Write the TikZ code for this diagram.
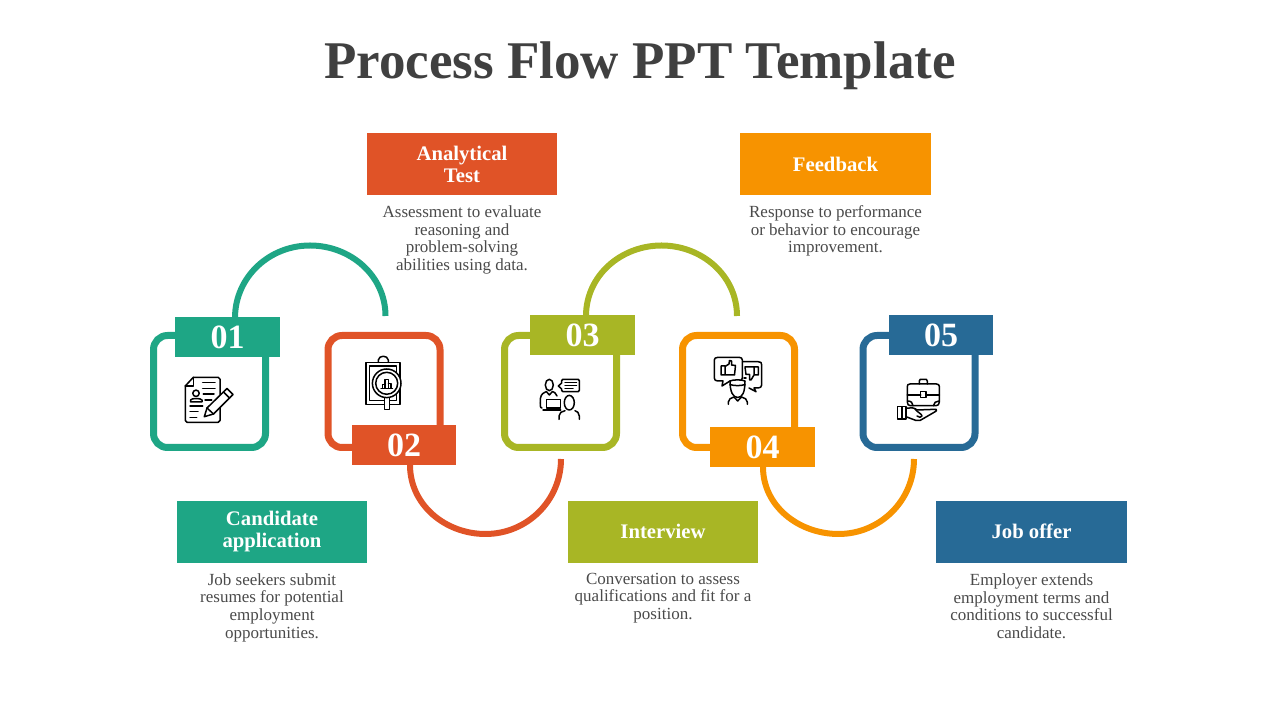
\documentclass[tikz,border=0pt]{standalone}
\usepackage{fontspec}
\setmainfont{Liberation Serif}
\definecolor{stepteal}{HTML}{1EA685}
\definecolor{stepred}{HTML}{E05327}
\definecolor{stepolive}{HTML}{A8B625}
\definecolor{steporange}{HTML}{F79300}
\definecolor{stepblue}{HTML}{276A96}
\definecolor{titlegray}{HTML}{404040}
\definecolor{bodygray}{HTML}{4A4A4A}
\begin{document}
\begin{tikzpicture}[x=1pt, y=1pt]
	\tikzstyle{iconbox} = [
		draw, line width=7pt, fill=white,
		rectangle, rounded corners=14pt,
		minimum height=112pt, minimum width=112pt];
	\tikzstyle{numtag} = [
		rectangle, inner sep=0pt,
		minimum height=40pt, minimum width=104.5pt,
		text=white, font={\fontsize{34}{34}\selectfont\bfseries}];
	\tikzstyle{headbox} = [
		rectangle, inner sep=0pt, align=center,
		minimum height=61.5pt, minimum width=190pt,
		text=white, font={\fontsize{20.7}{22}\selectfont\bfseries}];
	\tikzstyle{desc} = [
		inner sep=0pt, align=center, text=bodygray,
		font={\fontsize{17}{17.7}\selectfont}];
	\tikzstyle{loopline} = [line width=6pt];
	\tikzstyle{icon} = [
		black, line width=1.5pt, line join=round, line cap=round];

	\useasboundingbox (0,0) rectangle (1280,720);

	\node[inner sep=0pt, text=titlegray, font={\fontsize{53}{57}\selectfont\bfseries}] (title) at (640,654) {Process Flow PPT Template};

	\coordinate (arcastart) at (235,402);
	\coordinate (arcatop) at (310,474.5);
	\coordinate (arcaend) at (385.5,404);
	\coordinate (arcbstart) at (410,255);
	\coordinate (arcbbottom) at (485.5,186);
	\coordinate (arcbend) at (561,261);
	\coordinate (arccstart) at (586,404);
	\coordinate (arcctop) at (661.5,474.5);
	\coordinate (arccend) at (737,404);
	\coordinate (arcdstart) at (763,253);
	\coordinate (arcdbottom) at (838.5,186);
	\coordinate (arcdend) at (914,261);

	\draw[loopline, stepteal] (arcastart) to[out=90, in=180] (arcatop) to[out=0, in=90] (arcaend);
	\draw[loopline, stepred] (arcbstart) to[out=-90, in=180] (arcbbottom) to[out=0, in=-90] (arcbend);
	\draw[loopline, stepolive] (arccstart) to[out=90, in=180] (arcctop) to[out=0, in=90] (arccend);
	\draw[loopline, steporange] (arcdstart) to[out=-90, in=180] (arcdbottom) to[out=0, in=-90] (arcdend);

	\node[iconbox, draw=stepteal] (apply) at (209.5,328.5) {};
	\node[iconbox, draw=stepred, node distance=174.5pt, right of=apply] (test) {};
	\node[iconbox, draw=stepolive, node distance=176.5pt, right of=test] (talk) {};
	\node[iconbox, draw=steporange, node distance=178pt, right of=talk] (review) {};
	\node[iconbox, draw=stepblue, node distance=180.5pt, right of=review] (offer) {};

	\node[numtag, fill=stepteal, node distance=18pt, right of=apply, yshift=54.5pt] (applynum) {01};
	\node[numtag, fill=stepred, node distance=20pt, right of=test, yshift=-53.5pt] (testnum) {02};
	\node[numtag, fill=stepolive, node distance=22pt, right of=talk, yshift=56.5pt] (talknum) {03};
	\node[numtag, fill=steporange, node distance=24pt, right of=review, yshift=-55.5pt] (reviewnum) {04};
	\node[numtag, fill=stepblue, node distance=22pt, right of=offer, yshift=56.5pt] (offernum) {05};

	\node[headbox, fill=stepteal] (applyhead) at (272,188.2) {Candidate\\application};
	\node[headbox, fill=stepred] (testhead) at (462,556) {Analytical\\Test};
	\node[headbox, fill=stepolive] (talkhead) at (663,188.2) {Interview};
	\node[headbox, fill=steporange, minimum width=191pt] (reviewhead) at (835.5,556) {Feedback};
	\node[headbox, fill=stepblue, minimum width=191pt] (offerhead) at (1031.5,188.2) {Job offer};

	\node[desc, node distance=75.8pt, below of=applyhead] (applytext) {Job seekers submit\\resumes for potential\\employment\\opportunities.};
	\node[desc, node distance=76pt, below of=testhead] (testtext) {Assessment to evaluate\\reasoning and\\problem-solving\\abilities using data.};
	\node[desc, node distance=66.3pt, below of=talkhead] (talktext) {Conversation to assess\\qualifications and fit for a\\position.};
	\node[desc, node distance=67pt, below of=reviewhead] (reviewtext) {Response to performance\\or behavior to encourage\\improvement.};
	\node[desc, node distance=74.3pt, below of=offerhead] (offertext) {Employer extends\\employment terms and\\conditions to successful\\candidate.};

	\begin{scope}[shift={(0,720)}, yscale=-1, icon]
		\draw (193.3,377.3) -- (185.3,386) -- (185.3,420.5) -- ++(1.8,1.8) -- (218.2,422.3) -- ++(1.8,-1.8) -- (220,379.1) -- ++(-1.8,-1.8) -- cycle;
		\draw (193.3,377.3) -- (193.3,386) -- (185.3,386);
		\draw (196,393.3) circle (3.2pt);
		\draw (190.7,402) -- (190.7,400) .. controls (191,398) and (201,398) .. (202,400) -- (202,402) -- cycle;
		\draw (202.7,382.7) -- (215,382.7) (202.7,388.3) -- (215,388.3) (203.3,394) -- (214,394) (205,400) -- (211.7,400);
		\draw (190,406) -- (202.7,406) (190,411.7) -- (198,411.7) (190,417.3) -- (196.7,417.3);
		\draw[fill=white] (204.3,416.7) -- (207,408) -- (227,388.5) -- (233,394.5) -- (213.5,414) -- cycle;
		\draw (207,408) -- (213.5,414) (223.5,392) -- (229.5,398);

		\draw (366,362.3) rectangle (400,404.3);
		\draw (369.3,366) rectangle (396.7,400.7);
		\draw (378.3,362.3) -- (378.3,360) .. controls (379,355) and (387.5,355) .. (388.3,360) -- (388.3,362.3);
		\draw[fill=white] (384.3,395) rectangle (389.3,409.3);
		\draw[fill=white] (386.7,383.3) circle (14.3pt);
		\draw (386.7,383.3) circle (11pt);
		\draw (382.7,388) -- (382.7,384.5) -- (385,384.5) -- (385,388) (385,388) -- (385,379.5) -- (388.4,379.5) -- (388.4,388) (388.4,383.5) -- (391,383.5) -- (391,388) (381,388.3) -- (392.5,388.3);

		\draw (549.3,385) ellipse (4pt and 5.7pt);
		\draw (542,408) .. controls (540,408) and (540,406) .. (540.5,398) .. controls (541,394) and (544,392.5) .. (546.3,391.5) -- (549.3,395) -- (552.5,391.5) .. controls (554,392) and (556,393) .. (557,396);
		\draw (546.7,399.3) rectangle (560.7,408) (543,410) -- (560.7,410);
		\draw (561.7,380.5) .. controls (561.7,379.3) and (562,379.3) .. (563,379.3) -- (578,379.3) .. controls (579.3,379.3) and (579.3,379.5) .. (579.3,380.5) -- (579.3,390.5) .. controls (579.3,391.7) and (579,391.7) .. (578,391.7) -- (563,391.7) .. controls (562,391.7) and (561.7,391.7) .. (561.7,390.5) -- (561.7,389) -- (558.3,386) -- (561.7,383) -- cycle;
		\draw (565,382.7) -- (576.5,382.7) (565,385.5) -- (576.5,385.5) (565,388.3) -- (573,388.3);
		\draw[fill=white] (569.3,402.7) ellipse (5pt and 7.3pt);
		\draw (559,419.3) -- (559,416) .. controls (559,413) and (562,411) .. (565,410.7) (575,410.7) .. controls (577,411) and (579.3,413) .. (579.3,416) -- (579.3,419.3);

		\draw (742.3,361.7) -- (758,361.7) .. controls (761,361.7) and (761.7,362.5) .. (761.7,365) -- (761.7,385) .. controls (761.7,387) and (760,388) .. (758,388) -- (754,388) -- (756,391.7) -- (749,388);
		\draw[fill=white] (718,357.3) -- (739,357.3) .. controls (741.5,357.3) and (742.3,358.5) .. (742.3,360) -- (742.3,378) .. controls (742.3,380) and (741,381) .. (739,381) -- (730,381) -- (722,386) -- (723,381) -- (718,381) .. controls (715.5,381) and (714.3,380) .. (714.3,378) -- (714.3,360) .. controls (714.3,358.5) and (715.5,357.3) .. (718,357.3) -- cycle;
		\draw (721,366) rectangle (725,375) (725,366.5) -- (729,364) -- (729.5,360.5) -- (731.5,361) -- (731.5,365) -- (735.5,365.5) -- (734.5,375) -- (725,375);
		\draw (745,367) -- (754,367) -- (754,375) -- (751,380) -- (749.5,380) -- (749.5,374.5) -- (746,374.5) -- cycle (754,367) rectangle (758.3,375);
		\draw (744,378) -- (746,378);
		\draw[fill=white] (730,381) .. controls (730,392) and (733,397.5) .. (737.7,397.5) .. controls (742.5,397.5) and (745,392) .. (745,381) .. controls (742,379.5) and (733,379.5) .. (730,381) -- cycle;
		\draw (730,384.5) .. controls (734,386) and (741,386) .. (745,384.5);
		\draw (728.3,404.3) -- (728.3,402) .. controls (728.3,399.5) and (731,397.5) .. (734,397) -- (737.7,401) -- (741.5,397) .. controls (744.5,397.5) and (747.3,399.5) .. (747.3,402) -- (747.3,404.3);

		\draw (910,384) -- (936.5,384) .. controls (938.5,384) and (939.3,385) .. (939.3,386.5) -- (939.3,402) .. controls (939.3,404.5) and (938,405.7) .. (936,405.7) -- (910.5,405.7) .. controls (908.5,405.7) and (907.3,404.5) .. (907.3,402) -- (907.3,386.5) .. controls (907.3,385) and (908,384) .. (910,384) -- cycle;
		\draw (919.3,384) -- (919.3,381) -- (920.3,379.3) -- (926.3,379.3) -- (927.3,381) -- (927.3,384);
		\draw (907.3,395) -- (920.7,395) (926,395) -- (939.3,395);
		\draw (920.7,391.7) rectangle (926,397.3);
		\draw (907.8,401) .. controls (911,401) and (913,403) .. (913,405.7) (938.8,401) .. controls (936,401) and (933.5,403) .. (933.5,405.7);
		\draw (897.7,406.7) rectangle (906,419) (901.8,406.7) -- (901.8,419);
		\draw (906,408.3) -- (912,407.8) .. controls (914,407.8) and (916,409) .. (917,410) -- (936,409.3) .. controls (937,410) and (936.5,411) .. (935.5,411.5) -- (920,420.5) .. controls (918.5,421.2) and (917.5,421) .. (916,420.5) -- (906,416.7);
		\draw (915,409) .. controls (917,412) and (922,414) .. (922,416) .. controls (921,418) and (919,417.5) .. (917,416);
	\end{scope}
\end{tikzpicture}
\end{document}
